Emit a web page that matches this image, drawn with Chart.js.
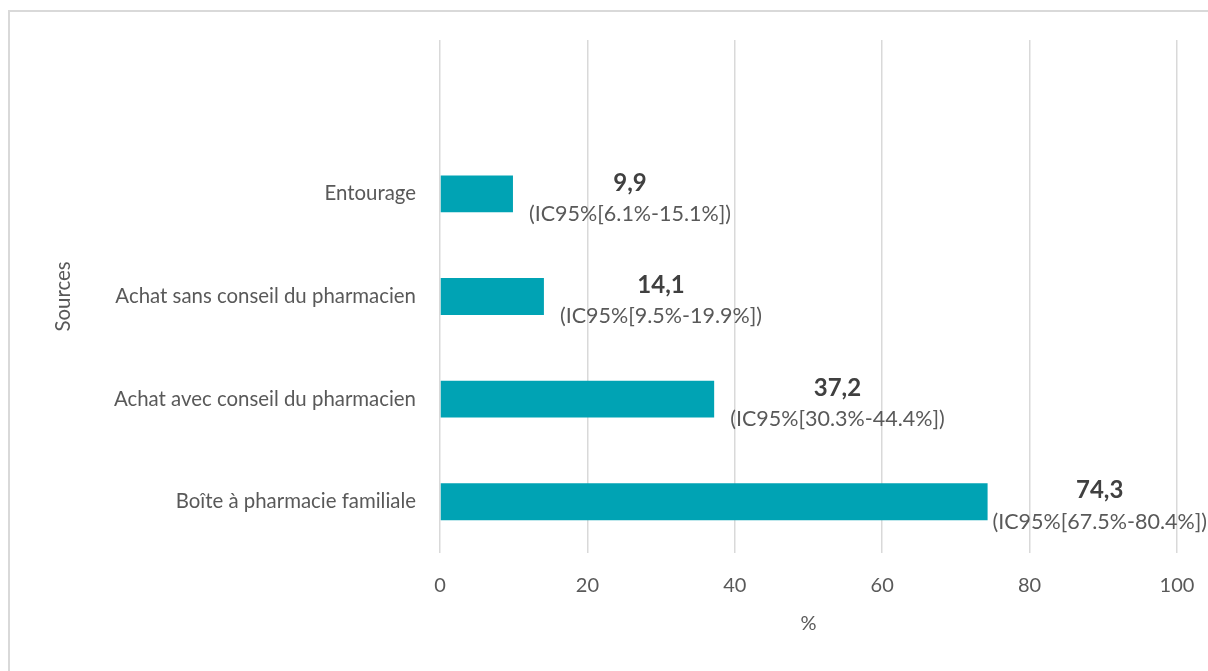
<!DOCTYPE html>
<html>
<head>
<meta charset="utf-8">
<script src="https://cdn.jsdelivr.net/npm/chart.js@4/dist/chart.umd.min.js"></script>
<style>
  html, body { margin: 0; padding: 0; background: #fff; }
  #wrap { width: 1208px; height: 671px; position: relative; }
</style>
</head>
<body>
<div id="wrap"><canvas id="c" width="1208" height="671"></canvas></div>
<script>
// Categories (top row intentionally blank, as in the original layout)
const categories = ['', 'Entourage', 'Achat sans conseil du pharmacien', 'Achat avec conseil du pharmacien', 'Boîte à pharmacie familiale'];
const percentages = [null, 9.9, 14.1, 37.2, 74.3];
const ciLabels = ['', '(IC95%[6.1%-15.1%])', '(IC95%[9.5%-19.9%])', '(IC95%[30.3%-44.4%])', '(IC95%[67.5%-80.4%])'];
const xTicks = [0, 20, 40, 60, 80, 100];

const FONT = 'Lato, "Open Sans", sans-serif';
const TEXT = '#595959';

const frame = {
  id: 'frame',
  beforeDraw(chart) {
    const ctx = chart.ctx;
    ctx.save();
    ctx.strokeStyle = '#d9d9d9';
    ctx.lineWidth = 2;
    ctx.strokeRect(9, 11, 1400, 900);
    ctx.restore();
  }
};

const labelPlugin = {
  id: 'barLabels',
  afterDatasetsDraw(chart) {
    const ctx = chart.ctx;
    const meta = chart.getDatasetMeta(0);
    ctx.save();
    meta.data.forEach((bar, i) => {
      const v = percentages[i];
      if (v === null || v === undefined) return;
      const ci = ciLabels[i];
      ctx.font = '21.5px ' + FONT;
      const w = ctx.measureText(ci).width;
      let left = bar.x + 16;
      if (left + w > chart.width - 1) left = chart.width - 1 - w;
      const cx = left + w / 2;
      ctx.textAlign = 'center';
      ctx.textBaseline = 'middle';
      ctx.fillStyle = TEXT;
      ctx.fillText(ci, cx, bar.y + 20);
      ctx.font = 'bold 24px ' + FONT;
      ctx.fillStyle = '#404040';
      ctx.fillText(v.toFixed(1).replace('.', ','), cx, bar.y - 11);
    });
    ctx.restore();
  }
};

new Chart(document.getElementById('c'), {
  type: 'bar',
  data: {
    labels: categories,
    datasets: [{
      data: percentages,
      backgroundColor: '#00A3B4',
      borderWidth: 0,
      categoryPercentage: 1,
      barPercentage: 0.36
    }]
  },
  options: {
    indexAxis: 'y',
    responsive: false,
    animation: false,
    layout: { padding: { left: 0, right: 31, top: 40, bottom: 0 } },
    plugins: {
      legend: { display: false },
      tooltip: { enabled: false }
    },
    scales: {
      x: {
        min: 0, max: 100,
        afterBuildTicks(scale) { scale.ticks = xTicks.map(v => ({ value: v })); },
        afterFit(scale) { scale.height = 118; scale.paddingRight = 0; scale.paddingLeft = 0; },
        grid: { color: '#d9d9d9', lineWidth: 1.5, drawTicks: false },
        border: { display: false },
        ticks: { color: TEXT, font: { family: FONT, size: 20 }, padding: 21 },
        title: { display: true, text: '%', color: TEXT, font: { family: FONT, size: 20 }, padding: { top: 0, bottom: 35 } }
      },
      y: {
        afterFit(scale) { scale.width = 440; scale.paddingTop = 0; scale.paddingBottom = 0; },
        grid: { display: false, drawTicks: false },
        border: { display: false },
        ticks: { color: TEXT, font: { family: FONT, size: 20.4 }, padding: 24 },
        title: { display: true, text: 'Sources', color: TEXT, font: { family: FONT, size: 20.4 }, padding: { top: 51, bottom: 0 } }
      }
    }
  },
  plugins: [frame, labelPlugin]
});
</script>
</body>
</html>
